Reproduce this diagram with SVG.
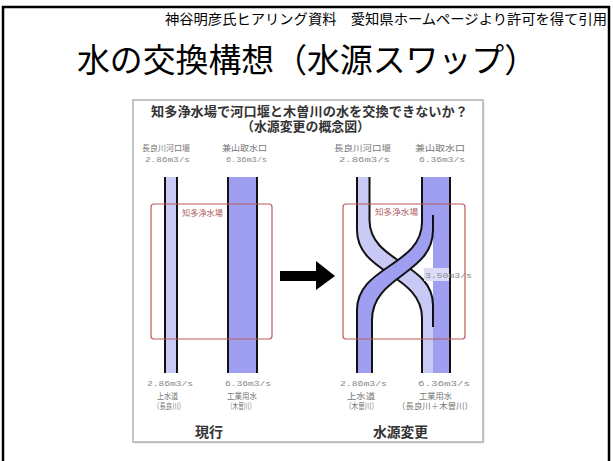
<svg xmlns="http://www.w3.org/2000/svg" width="613" height="461" viewBox="0 0 613 461">
<style>
text{font-family:"Liberation Sans","Noto Sans CJK JP","Noto Sans CJK SC",sans-serif;}
.hdr{font-size:14px;fill:#000;}
.ttl{font-size:33px;fill:#000;}
.bold{font-weight:bold;fill:#333;}
.lbl{font-size:8.5px;fill:#777;}
.flw{font-size:7px;fill:#888;font-family:"Liberation Mono","Noto Sans CJK JP",monospace;}
.plant{font-size:8.5px;fill:#b06060;}
.pl{stroke:#111;stroke-width:2;fill:none;}
.light{fill:#c9c9f5;}
.blue{fill:#9f9ff2;}
.red{fill:none;stroke:#bb5c5c;stroke-width:1.2;}
</style>
<rect width="613" height="461" fill="#fff"/>
<rect x="3" y="7" width="606" height="470" fill="none" stroke="#000" stroke-width="2.5"/>
<g id="header"><text class="hdr" x="165" y="24" textLength="442" lengthAdjust="spacingAndGlyphs">神谷明彦氏ヒアリング資料　愛知県ホームページより許可を得て引用</text></g>
<g id="title"><text class="ttl" x="77" y="72" textLength="460" lengthAdjust="spacingAndGlyphs">水の交換構想（水源スワップ）</text></g>
<g id="figure">
<rect x="134.5" y="101.5" width="350" height="342" fill="#e4e4e4"/>
<rect x="133" y="100" width="350" height="342" fill="#fff" stroke="#b0b0b0" stroke-width="1.5"/>
<text class="bold" x="151" y="116" font-size="13" textLength="317" lengthAdjust="spacingAndGlyphs">知多浄水場で河口堰と木曽川の水を交換できないか？</text>
<text class="bold" x="241" y="131" font-size="13" textLength="129" lengthAdjust="spacingAndGlyphs">（水源変更の概念図）</text>
</g>
<g id="current">
<text class="lbl" x="142" y="151" textLength="48" lengthAdjust="spacingAndGlyphs">長良川河口堰</text>
<text class="lbl" x="222" y="151" textLength="45" lengthAdjust="spacingAndGlyphs">兼山取水口</text>
<text class="flw" x="145" y="162" textLength="45" lengthAdjust="spacingAndGlyphs">2.86m3/s</text>
<text class="flw" x="226" y="162" textLength="41" lengthAdjust="spacingAndGlyphs">6.36m3/s</text>
<rect class="light" x="165" y="177" width="12" height="196"/>
<rect class="blue" x="228" y="177" width="29" height="196"/>
<path class="pl" d="M165,177V373M177,177V373M228,177V373M257,177V373"/>
<rect class="red" x="151" y="204" width="121" height="135" rx="3"/>
<text class="plant" x="182" y="216" textLength="41" lengthAdjust="spacingAndGlyphs">知多浄水場</text>
<text class="flw" x="147" y="386" textLength="46" lengthAdjust="spacingAndGlyphs">2.86m3/s</text>
<text class="flw" x="225" y="386" textLength="46" lengthAdjust="spacingAndGlyphs">6.36m3/s</text>
<text class="lbl" x="157" y="399" textLength="21" lengthAdjust="spacingAndGlyphs">上水道</text>
<text class="lbl" x="153" y="409" textLength="32" lengthAdjust="spacingAndGlyphs">（長良川）</text>
<text class="lbl" x="227" y="399" textLength="30" lengthAdjust="spacingAndGlyphs">工業用水</text>
<text class="lbl" x="227" y="409" textLength="28" lengthAdjust="spacingAndGlyphs">（木曽川）</text>
<text class="bold" x="195" y="437" font-size="14" textLength="28" lengthAdjust="spacingAndGlyphs">現行</text>
</g>
<g id="connectors">
<polygon points="280,271 316,271 316,261 335,276 316,290 316,281 280,281" fill="#000"/>
</g>
<g id="swap">
<text class="lbl" x="334" y="151" textLength="57" lengthAdjust="spacingAndGlyphs">長良川河口堰</text>
<text class="lbl" x="415" y="151" textLength="50" lengthAdjust="spacingAndGlyphs">兼山取水口</text>
<text class="flw" x="339" y="162" textLength="51" lengthAdjust="spacingAndGlyphs">2.86m3/s</text>
<text class="flw" x="419" y="162" textLength="46" lengthAdjust="spacingAndGlyphs">6.36m3/s</text>
<rect class="blue" x="433" y="177" width="17" height="196"/>
<rect class="blue" x="422" y="177" width="11" height="48"/>
<path class="light" d="M357,177L357,230C357,274 422,274 422,318L422,373L433,373L433,305C433,262.5 369.5,262.5 369.5,220L369.5,177Z"/>
<path class="pl" d="M357,177L357,230C357,274 422,274 422,318L422,373"/>
<path class="pl" d="M369.5,177L369.5,220C369.5,262.5 433,262.5 433,305L433,327"/>
<path class="blue" d="M422,215L422,222C422,266 357,266 357,310L357,373L372,373L372,320C372,275 433,275 433,230L433,215Z"/>
<path class="pl" d="M422,177L422,222C422,266 357,266 357,310L357,373"/>
<path class="pl" d="M433,215L433,230C433,275 372,275 372,320L372,373"/>
<path class="pl" d="M450,177V373"/>
<rect x="424" y="268" width="25" height="13" fill="#dcdcf8"/>
<text class="flw" x="425" y="278" textLength="47" lengthAdjust="spacingAndGlyphs">3.50m3/s</text>
<rect class="red" x="343" y="204" width="122" height="135" rx="3"/>
<text class="plant" x="375" y="215" textLength="43" lengthAdjust="spacingAndGlyphs">知多浄水場</text>
<text class="flw" x="340" y="386" textLength="47" lengthAdjust="spacingAndGlyphs">2.86m3/s</text>
<text class="flw" x="418" y="386" textLength="52" lengthAdjust="spacingAndGlyphs">6.36m3/s</text>
<text class="lbl" x="347" y="399" textLength="28" lengthAdjust="spacingAndGlyphs">上水道</text>
<text class="lbl" x="345" y="409" textLength="33" lengthAdjust="spacingAndGlyphs">（木曽川）</text>
<text class="lbl" x="419" y="399" textLength="33" lengthAdjust="spacingAndGlyphs">工業用水</text>
<text class="lbl" x="397" y="409" textLength="76" lengthAdjust="spacingAndGlyphs">（長良川＋木曽川）</text>
<text class="bold" x="373" y="437" font-size="14" textLength="55" lengthAdjust="spacingAndGlyphs">水源変更</text>
</g>
</svg>
